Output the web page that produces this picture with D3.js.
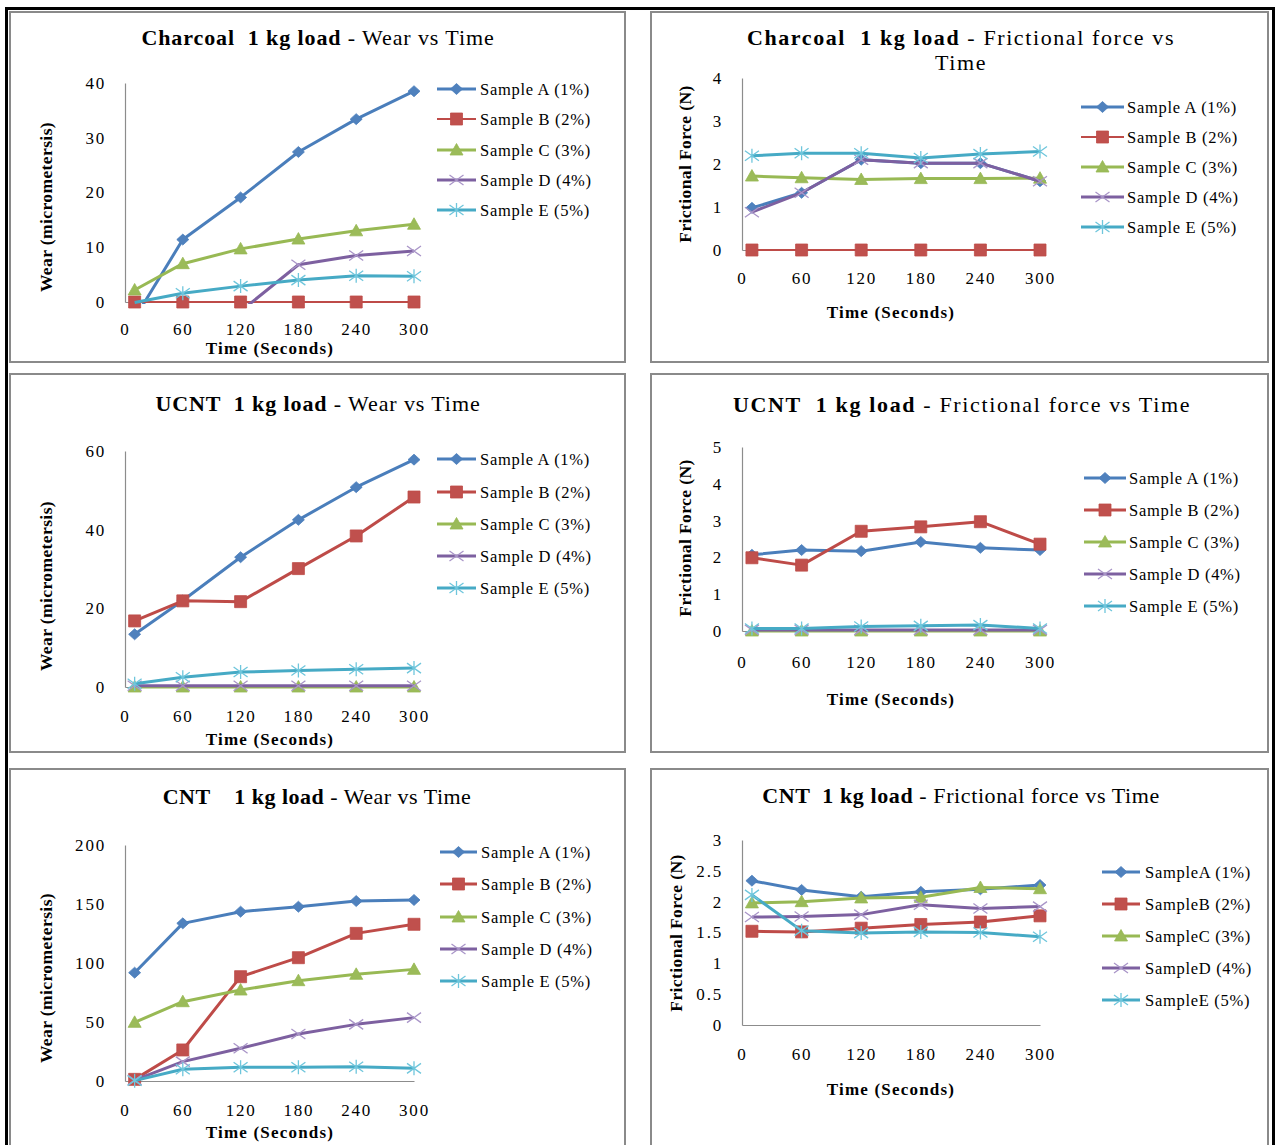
<!DOCTYPE html>
<html><head><meta charset="utf-8">
<script src="https://cdn.jsdelivr.net/npm/d3@7"></script>
<style>
body{margin:0;background:#fff;}
svg text{font-family:"Liberation Serif","Times New Roman",serif; white-space:pre;}
</style></head><body>
<svg id="chart" width="1277" height="1145"></svg>
<script>
// ---------- DATA ----------
const timeValues = [10, 60, 120, 180, 240, 300];
const xTickValues = [0, 60, 120, 180, 240, 300];
const sampleNames = ["Sample A (1%)", "Sample B (2%)", "Sample C (3%)", "Sample D (4%)", "Sample E (5%)"];
const sampleNamesCompact = ["SampleA (1%)", "SampleB (2%)", "SampleC (3%)", "SampleD (4%)", "SampleE (5%)"];

// rows: Sample A..E, columns: timeValues
const charcoalWear = [
  [-3.0, 11.4, 19.1, 27.4, 33.4, 38.5],
  [0, 0, 0, 0, 0, 0],
  [2.2, 7.0, 9.7, 11.5, 13.0, 14.2],
  [-4.0, -3.0, -1.7, 6.8, 8.5, 9.3],
  [-0.1, 1.6, 2.9, 4.0, 4.8, 4.7]
];
const charcoalFriction = [
  [0.98, 1.33, 2.10, 2.02, 2.02, 1.60],
  [0, 0, 0, 0, 0, 0],
  [1.72, 1.68, 1.64, 1.66, 1.66, 1.67],
  [0.88, 1.33, 2.10, 2.02, 2.02, 1.60],
  [2.19, 2.25, 2.25, 2.14, 2.23, 2.29]
];
const ucntWear = [
  [13.4, 22.0, 33.0, 42.5, 50.8, 57.8],
  [16.8, 21.9, 21.7, 30.1, 38.4, 48.3],
  [0, 0, 0, 0, 0, 0],
  [0.3, 0.3, 0.3, 0.3, 0.3, 0.3],
  [0.85, 2.5, 3.8, 4.2, 4.5, 4.8]
];
const ucntFriction = [
  [2.07, 2.20, 2.17, 2.42, 2.26, 2.20],
  [1.99, 1.79, 2.71, 2.83, 2.97, 2.36],
  [0, 0, 0, 0, 0, 0],
  [0.03, 0.03, 0.03, 0.03, 0.03, 0.03],
  [0.07, 0.07, 0.12, 0.14, 0.16, 0.07]
];
const cntWear = [
  [91.8, 133.6, 143.5, 147.7, 152.5, 153.4],
  [1.4, 26.3, 88.4, 104.5, 125.1, 132.8],
  [49.7, 67.2, 77.1, 85.0, 90.4, 94.6],
  [0.8, 16.4, 27.7, 39.8, 48.0, 53.7],
  [0.3, 9.9, 11.6, 11.6, 12.1, 10.7]
];
const cntFriction = [
  [2.34, 2.19, 2.08, 2.16, 2.20, 2.27],
  [1.52, 1.51, 1.57, 1.63, 1.67, 1.77],
  [1.98, 2.00, 2.06, 2.07, 2.23, 2.21],
  [1.75, 1.76, 1.79, 1.95, 1.89, 1.92],
  [2.11, 1.53, 1.49, 1.51, 1.50, 1.43]
];
const wearTicks = [0, 10, 20, 30, 40];
const ucntWearTicks = [0, 20, 40, 60];
const cntWearTicks = [0, 50, 100, 150, 200];
const charcoalForceTicks = [0, 1, 2, 3, 4];
const ucntForceTicks = [0, 1, 2, 3, 4, 5];
const cntForceTicks = [0, 0.5, 1, 1.5, 2, 2.5, 3];

// ---------- STYLE ----------
const lineColors = ["#4A7EBB", "#BE4B48", "#98B954", "#7D60A0", "#46AAC5"];
const markColors = ["#4F81BD", "#C0504D", "#9BBB59", "#A995C8", "#6FC6DC"];
const markerKinds = ["diamond", "square", "triangle", "x", "asterisk"];

function markerPath(kind) {
  switch (kind) {
    case "diamond": return "M0,-5.5L6,0L0,5.5L-6,0Z";
    case "square": return "M-6,-6H6V6H-6Z";
    case "triangle": return "M0,-6.5L6.5,5L-6.5,5Z";
    case "x": return "M-7,-5L7,5M-7,5L7,-5";
    case "asterisk": return "M-7,-5L7,5M-7,5L7,-5M0,-7V7";
  }
}

const panels = [
  {box:[10,12,625,362], plot:[125,414,83,302], yMax:40, yTicks:wearTicks, data:charcoalWear,
   title:[["Charcoal  1 kg load"," - Wear vs Time"]], titleX:318, titleY:[45], titleLS:0.9,
   yLabel:"Wear (micrometersis)", yLabelX:46, yLabelY:207, xLabelX:270, xLabelY:354, xTickBase:335,
   legend:{x0:437,x1:476,tx:480,rows:[89,119,150,180,210]}, names:sampleNames, bWidth:2},
  {box:[651,12,1268,362], plot:[742,1040,78,250], yMax:4, yTicks:charcoalForceTicks, data:charcoalFriction,
   title:[["Charcoal  1 kg load"," - Frictional force vs"],["","Time"]], titleX:961, titleY:[45,70], titleLS:1.6,
   yLabel:"Frictional Force (N)", yLabelX:685, yLabelY:164, xLabelX:891, xLabelY:318, xTickBase:284,
   legend:{x0:1081,x1:1124,tx:1127,rows:[107,137,167,197,227]}, names:sampleNames, bWidth:2},
  {box:[10,374,625,752], plot:[125,414,451,687], yMax:60, yTicks:ucntWearTicks, data:ucntWear,
   title:[["UCNT  1 kg load"," - Wear vs Time"]], titleX:318, titleY:[411], titleLS:0.9,
   yLabel:"Wear (micrometersis)", yLabelX:46, yLabelY:586, xLabelX:270, xLabelY:745, xTickBase:722,
   legend:{x0:437,x1:476,tx:480,rows:[459,492,524,556,588]}, names:sampleNames, bWidth:3},
  {box:[651,374,1268,752], plot:[742,1040,447,631], yMax:5, yTicks:ucntForceTicks, data:ucntFriction,
   title:[["UCNT  1 kg load"," - Frictional force vs Time"]], titleX:962, titleY:[412], titleLS:1.65,
   yLabel:"Frictional Force (N)", yLabelX:685, yLabelY:538, xLabelX:891, xLabelY:705, xTickBase:668,
   legend:{x0:1084,x1:1126,tx:1129,rows:[478,510,542,574,606]}, names:sampleNames, bWidth:3},
  {box:[10,769,625,1170], plot:[125,414,845,1081], yMax:200, yTicks:cntWearTicks, data:cntWear,
   title:[["CNT    1 kg load"," - Wear vs Time"]], titleX:317, titleY:[804], titleLS:0.5,
   yLabel:"Wear (micrometersis)", yLabelX:46, yLabelY:978, xLabelX:270, xLabelY:1138, xTickBase:1116,
   legend:{x0:440,x1:477,tx:481,rows:[852,884,917,949,981]}, names:sampleNames, bWidth:3},
  {box:[651,769,1268,1170], plot:[742,1040,840,1025], yMax:3, yTicks:cntForceTicks, data:cntFriction,
   title:[["CNT  1 kg load"," - Frictional force vs Time"]], titleX:961, titleY:[803], titleLS:0.6,
   yLabel:"Frictional Force (N)", yLabelX:676, yLabelY:933, xLabelX:891, xLabelY:1095, xTickBase:1060,
   legend:{x0:1102,x1:1140,tx:1145,rows:[872,904,936,968,1000]}, names:sampleNamesCompact, bWidth:3}
];

// ---------- DRAW ----------
const svg = d3.select("#chart");
const defs = svg.append("defs");

// outer black frame
svg.append("path").attr("d", "M6.5,1160V8.5H1273.5V1160")
  .attr("fill", "none").attr("stroke", "#000").attr("stroke-width", 3);

panels.forEach((p, pi) => {
  const g = svg.append("g");
  // panel border
  g.append("rect").attr("x", p.box[0]).attr("y", p.box[1])
    .attr("width", p.box[2] - p.box[0]).attr("height", p.box[3] - p.box[1])
    .attr("fill", "#fff").attr("stroke", "#8a8a8a").attr("stroke-width", 2);

  // title
  p.title.forEach((ln, li) => {
    const t = g.append("text").attr("x", p.titleX).attr("y", p.titleY[li])
      .attr("text-anchor", "middle").attr("font-size", 22).attr("letter-spacing", p.titleLS).attr("fill", "#000");
    if (ln[0]) t.append("tspan").attr("font-weight", "bold").text(ln[0]);
    t.append("tspan").text(ln[1]);
  });

  const x = d3.scaleLinear().domain([0, 300]).range([p.plot[0], p.plot[1]]);
  const y = d3.scaleLinear().domain([0, p.yMax]).range([p.plot[3], p.plot[2]]);

  // y axis
  const ya = g.append("g").attr("transform", `translate(${p.plot[0]},0)`)
    .call(d3.axisLeft(y).tickValues(p.yTicks).tickSize(0).tickSizeOuter(0).tickPadding(19).tickFormat(d3.format("~g")));
  // x axis
  const padX = p.xTickBase - y(0) - 12;
  const xa = g.append("g").attr("transform", `translate(0,${y(0)})`)
    .call(d3.axisBottom(x).tickValues(xTickValues).tickSize(0).tickSizeOuter(0).tickPadding(padX).tickFormat(d3.format("d")));
  [ya, xa].forEach(a => {
    a.attr("font-size", null).attr("font-family", null);
    a.select(".domain").attr("stroke", "#8c8c8c").attr("stroke-width", 1.2);
    a.selectAll("text").attr("font-size", 17).attr("fill", "#000").attr("letter-spacing", 1.8);
  });

  // axis titles
  g.append("text").attr("transform", `translate(${p.yLabelX},${p.yLabelY}) rotate(-90)`)
    .attr("text-anchor", "middle").attr("dy", "0.35em").attr("font-size", 17.5).attr("font-weight", "bold")
    .attr("letter-spacing", 0.4).text(p.yLabel);
  g.append("text").attr("x", p.xLabelX).attr("y", p.xLabelY).attr("text-anchor", "middle")
    .attr("font-size", 17).attr("font-weight", "bold").attr("letter-spacing", 1.2).text("Time (Seconds)");

  // clip for lines
  const cid = "clip" + pi;
  defs.append("clipPath").attr("id", cid).append("rect")
    .attr("x", p.plot[0]).attr("y", p.plot[2] - 2)
    .attr("width", p.plot[1] - p.plot[0] + 2).attr("height", p.plot[3] - p.plot[2] + 4);

  const line = d3.line().x((d, i) => x(timeValues[i])).y(d => y(d));
  const series = g.append("g");
  p.data.forEach((vals, si) => {
    series.append("path").attr("d", line(vals)).attr("clip-path", `url(#${cid})`)
      .attr("fill", "none").attr("stroke", lineColors[si])
      .attr("stroke-width", si === 1 ? p.bWidth : 3).attr("stroke-linejoin", "round");
    const pts = vals.map((v, i) => ({t: timeValues[i], v})).filter(d => d.v >= 0 && d.v <= p.yMax);
    const kind = markerKinds[si];
    const filled = kind === "diamond" || kind === "square" || kind === "triangle";
    series.selectAll(null).data(pts).enter().append("path")
      .attr("transform", d => `translate(${x(d.t)},${y(d.v)})`)
      .attr("d", markerPath(kind))
      .attr("fill", filled ? markColors[si] : "none")
      .attr("stroke", filled ? lineColors[si] : markColors[si])
      .attr("stroke-width", filled ? 0.8 : 1.3);
  });

  // legend
  const L = p.legend;
  p.names.forEach((name, si) => {
    const ry = L.rows[si];
    g.append("line").attr("x1", L.x0).attr("x2", L.x1).attr("y1", ry).attr("y2", ry)
      .attr("stroke", lineColors[si]).attr("stroke-width", si === 1 ? p.bWidth : 3);
    const kind = markerKinds[si];
    const filled = kind === "diamond" || kind === "square" || kind === "triangle";
    g.append("path").attr("transform", `translate(${(L.x0 + L.x1) / 2},${ry})`)
      .attr("d", markerPath(kind))
      .attr("fill", filled ? markColors[si] : "none")
      .attr("stroke", filled ? lineColors[si] : markColors[si])
      .attr("stroke-width", filled ? 0.8 : 1.3);
    g.append("text").attr("x", L.tx).attr("y", ry).attr("dy", "0.35em")
      .attr("font-size", 16.5).attr("letter-spacing", 0.7).attr("fill", "#000").text(name);
  });
});
</script>
</body></html>
